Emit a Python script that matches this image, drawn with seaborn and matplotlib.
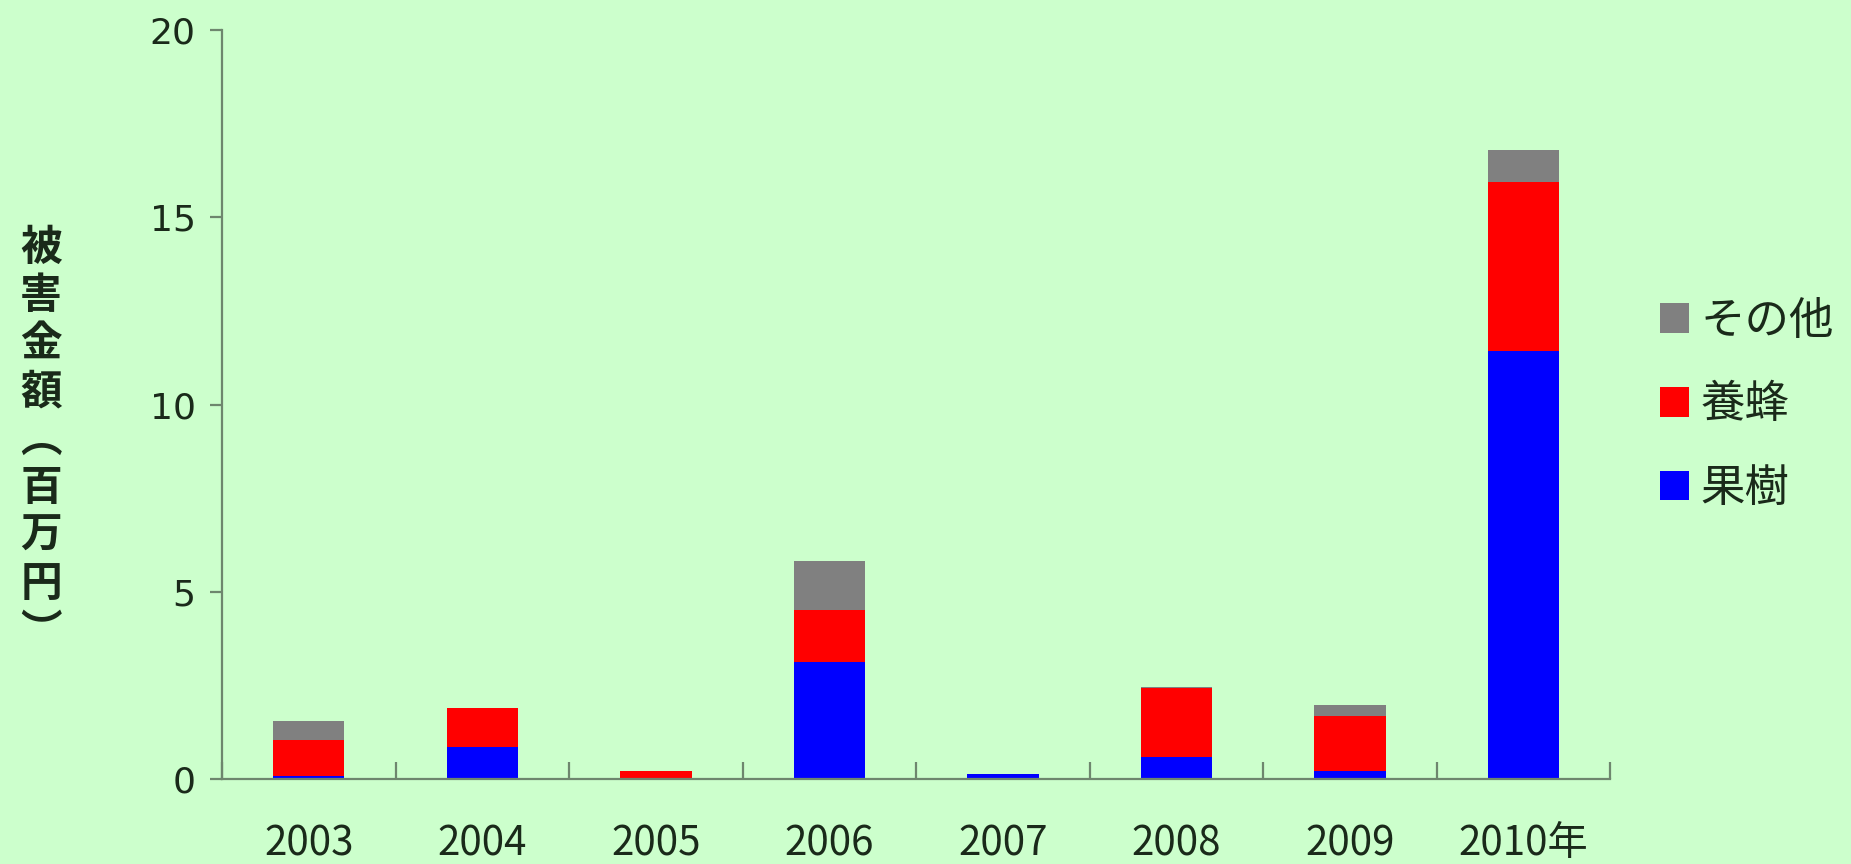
#!/usr/bin/env python3

import matplotlib.pyplot as plt
import numpy as np
import pandas as pd
import seaborn as sns
from matplotlib.patches import Patch

OUTPUT = "out.png"

years = ["2003", "2004", "2005", "2006", "2007", "2008", "2009", "2010年"]
fruit = [0.08, 0.85, 0.02, 3.12, 0.13, 0.60, 0.22, 11.43]      # 果樹
bees = [0.96, 1.04, 0.18, 1.38, 0.00, 1.83, 1.45, 4.50]        # 養蜂
other = [0.50, 0.00, 0.00, 1.33, 0.00, 0.02, 0.31, 0.86]       # その他

BG = "#CCFFCC"
AXIS = "#6E866E"
TEXT = "#1A2A1A"


def plot_damage(df: pd.DataFrame):
    fig = plt.figure(figsize=(18.51, 8.64), dpi=100, facecolor=BG)
    ax = fig.add_axes([0.12, 0.0984, 0.750, 0.8668])
    ax.set_facecolor(BG)

    # stacked look: draw cumulative totals from the top layer down
    layers = [("total", "#808080"), ("mid", "#FF0000"), ("fruit", "#0000FF")]
    for col, color in layers:
        sns.barplot(df, x="year", y=col, color=color, width=0.41,
                    saturation=1, ax=ax, linewidth=0, errorbar=None)

    ax.set_xlim(-0.5, len(years) - 0.5)
    ax.set_ylim(0, 20)
    ax.set_yticks([0, 5, 10, 15, 20])
    ax.set_xlabel("")
    ax.set_ylabel("")

    for side in ("top", "right"):
        ax.spines[side].set_visible(False)
    for side in ("left", "bottom"):
        ax.spines[side].set_color(AXIS)
        ax.spines[side].set_linewidth(1.6)

    ax.tick_params(axis="y", direction="out", length=9, width=1.6,
                   color=AXIS, pad=10, labelsize=26, labelcolor=TEXT)
    ax.tick_params(axis="x", which="major", length=0, pad=32,
                   labelsize=29, labelcolor=TEXT)
    ax.set_xticks(np.arange(-0.5, len(years)), minor=True)
    ax.tick_params(axis="x", which="minor", direction="in", length=12,
                   width=1.6, color=AXIS)
    for lab in ax.get_xticklabels():
        lab.set_family(["Liberation Sans Narrow", "Noto Sans CJK JP"])
    for lab in ax.get_yticklabels():
        lab.set_family(["DejaVu Sans"])

    # vertical y label, one character per line (vertical-form brackets)
    ylabel = "被害金額︵百万円︶"
    y0, step = 248, 48
    for i, ch in enumerate(ylabel):
        fig.text(41 / 1851, 1 - (y0 + i * step) / 864, ch, ha="center",
                 va="center", color=TEXT, fontweight="bold", fontsize=30,
                 family=["Noto Sans CJK JP"])

    handles = [Patch(facecolor=c, edgecolor="none") for c in ("#808080", "#FF0000", "#0000FF")]
    fig.legend(handles, ["その他", "養蜂", "果樹"], loc="center left",
               bbox_to_anchor=(0.897, 0.532), frameon=False,
               handlelength=0.65, handleheight=0.65, handletextpad=0.25,
               labelspacing=0.85, prop={"family": ["Noto Sans CJK JP"], "size": 32},
               labelcolor=TEXT, borderaxespad=0, borderpad=0)

    fig.savefig(OUTPUT, facecolor=BG)


def main():
    df = pd.DataFrame({"year": years, "fruit": fruit, "bees": bees, "other": other})
    df["mid"] = df["fruit"] + df["bees"]
    df["total"] = df["mid"] + df["other"]
    plot_damage(df)


if __name__ == "__main__":
    main()
